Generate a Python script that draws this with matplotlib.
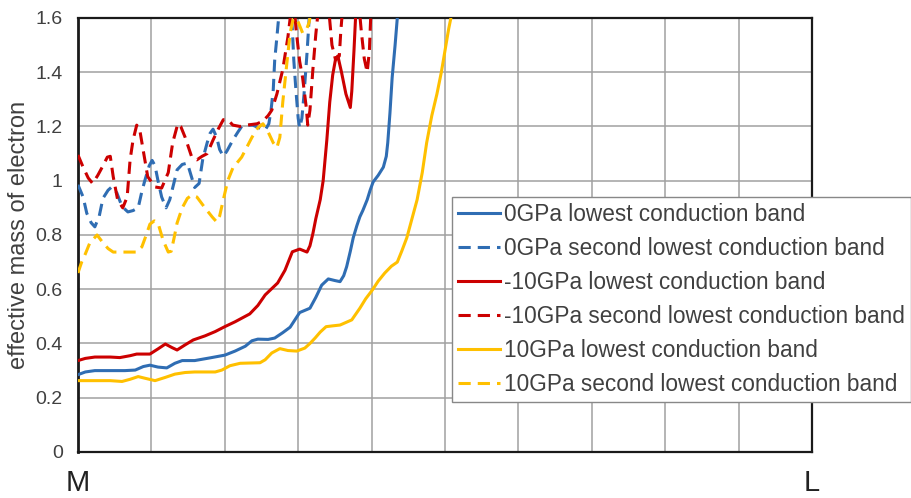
import matplotlib
matplotlib.use('Agg')
import matplotlib.pyplot as plt

plt.rcParams['font.family'] = ['Liberation Sans', 'DejaVu Sans']

# Effective electron mass along the M -> L path (0 = M, 1 = L)
# 0 GPa
x_0_low = [0.000, 0.010, 0.023, 0.044, 0.064, 0.078, 0.089, 0.098, 0.109, 0.121,
           0.132, 0.142, 0.159, 0.180, 0.200, 0.214, 0.228, 0.237, 0.245, 0.259,
           0.268, 0.279, 0.289, 0.302, 0.316, 0.324, 0.332, 0.341, 0.350, 0.357,
           0.362, 0.366, 0.371, 0.375, 0.380, 0.384, 0.388, 0.394, 0.398, 0.402,
           0.409, 0.416, 0.420, 0.422, 0.425, 0.428, 0.432, 0.435, 0.437]
m_0_low = [0.285, 0.295, 0.300, 0.300, 0.300, 0.302, 0.315, 0.320, 0.313, 0.310,
           0.327, 0.337, 0.337, 0.347, 0.357, 0.372, 0.390, 0.410, 0.416, 0.415,
           0.420, 0.440, 0.460, 0.514, 0.530, 0.570, 0.615, 0.638, 0.632, 0.628,
           0.650, 0.683, 0.740, 0.790, 0.835, 0.867, 0.890, 0.930, 0.965, 0.995,
           1.020, 1.050, 1.090, 1.140, 1.250, 1.380, 1.500, 1.600, 1.700]

x_0_second = [0.000, 0.007, 0.012, 0.018, 0.023, 0.029, 0.034, 0.041, 0.046, 0.053,
              0.060, 0.068, 0.075, 0.082, 0.087, 0.091, 0.097, 0.101, 0.105, 0.109,
              0.114, 0.120, 0.125, 0.131, 0.135, 0.142, 0.149, 0.154, 0.159, 0.165,
              0.170, 0.176, 0.180, 0.184, 0.189, 0.193, 0.198, 0.203, 0.211, 0.218,
              0.223, 0.232, 0.238, 0.247, 0.255, 0.260, 0.263, 0.266, 0.268, 0.271,
              0.274, 0.278, 0.283, 0.289, 0.292, 0.294, 0.297, 0.300, 0.302, 0.305,
              0.308, 0.312, 0.315, 0.317]
m_0_second = [0.985, 0.940, 0.880, 0.845, 0.830, 0.870, 0.935, 0.965, 0.977, 0.955,
              0.905, 0.885, 0.890, 0.900, 0.960, 1.000, 1.055, 1.075, 1.055, 1.000,
              0.940, 0.900, 0.930, 0.995, 1.040, 1.060, 1.065, 1.020, 0.975, 0.990,
              1.080, 1.140, 1.175, 1.190, 1.160, 1.115, 1.090, 1.110, 1.150, 1.180,
              1.200, 1.205, 1.205, 1.195, 1.187, 1.210, 1.260, 1.335, 1.445, 1.530,
              1.620, 1.750, 1.800, 1.650, 1.560, 1.445, 1.330, 1.230, 1.195, 1.230,
              1.320, 1.470, 1.600, 1.700]

# -10 GPa
x_m10_low = [0.000, 0.010, 0.023, 0.044, 0.057, 0.071, 0.080, 0.098, 0.109, 0.119,
             0.128, 0.135, 0.146, 0.157, 0.173, 0.187, 0.200, 0.214, 0.234, 0.245,
             0.255, 0.272, 0.282, 0.292, 0.302, 0.312, 0.316, 0.320, 0.324, 0.330,
             0.334, 0.339, 0.343, 0.347, 0.351, 0.354, 0.359, 0.365, 0.371, 0.373,
             0.376, 0.379]
m_m10_low = [0.337, 0.345, 0.350, 0.350, 0.348, 0.355, 0.361, 0.361, 0.380, 0.398,
             0.385, 0.376, 0.395, 0.413, 0.428, 0.444, 0.462, 0.480, 0.509, 0.540,
             0.579, 0.623, 0.670, 0.738, 0.748, 0.737, 0.760, 0.805, 0.860, 0.930,
             1.000, 1.150, 1.290, 1.390, 1.450, 1.460, 1.400, 1.320, 1.270, 1.330,
             1.480, 1.650]

x_m10_second = [0.000, 0.007, 0.014, 0.020, 0.027, 0.033, 0.040, 0.044, 0.048, 0.054,
                0.061, 0.067, 0.071, 0.075, 0.080, 0.084, 0.089, 0.095, 0.105, 0.114,
                0.123, 0.129, 0.136, 0.140, 0.146, 0.155, 0.162, 0.169, 0.176, 0.184,
                0.191, 0.198, 0.204, 0.211, 0.221, 0.230, 0.244, 0.252, 0.259, 0.264,
                0.271, 0.279, 0.286, 0.290, 0.293, 0.297, 0.302, 0.306, 0.311, 0.313,
                0.316, 0.320, 0.324, 0.327, 0.335, 0.342, 0.346, 0.351, 0.356, 0.358,
                0.361, 0.371, 0.381, 0.386, 0.390, 0.394, 0.397, 0.399, 0.402]
m_m10_second = [1.095, 1.050, 1.010, 0.990, 1.020, 1.050, 1.087, 1.090, 1.015, 0.930,
                0.900, 0.940, 1.077, 1.150, 1.205, 1.190, 1.110, 1.015, 0.977, 0.973,
                1.030, 1.140, 1.210, 1.200, 1.160, 1.087, 1.077, 1.090, 1.100, 1.150,
                1.190, 1.225, 1.225, 1.205, 1.200, 1.205, 1.210, 1.220, 1.240, 1.260,
                1.320, 1.410, 1.530, 1.620, 1.700, 1.560, 1.440, 1.380, 1.270, 1.205,
                1.260, 1.410, 1.540, 1.620, 1.850, 1.620, 1.500, 1.445, 1.460, 1.550,
                1.650, 1.900, 1.700, 1.550, 1.450, 1.400, 1.480, 1.620, 1.750]

# 10 GPa
x_10_low = [0.000, 0.023, 0.044, 0.060, 0.071, 0.082, 0.091, 0.105, 0.119, 0.132,
            0.146, 0.159, 0.187, 0.196, 0.207, 0.221, 0.248, 0.255, 0.264, 0.275,
            0.286, 0.298, 0.309, 0.316, 0.323, 0.330, 0.338, 0.347, 0.357, 0.373,
            0.384, 0.392, 0.401, 0.409, 0.418, 0.427, 0.435, 0.441, 0.448, 0.455,
            0.462, 0.469, 0.475, 0.482, 0.489, 0.495, 0.500, 0.505, 0.508, 0.511]
m_10_low = [0.263, 0.263, 0.263, 0.260, 0.268, 0.278, 0.272, 0.263, 0.275, 0.287,
            0.293, 0.295, 0.295, 0.302, 0.318, 0.327, 0.329, 0.340, 0.365, 0.381,
            0.374, 0.372, 0.383, 0.400, 0.420, 0.442, 0.462, 0.465, 0.468, 0.487,
            0.530, 0.565, 0.597, 0.630, 0.660, 0.685, 0.700, 0.740, 0.790, 0.860,
            0.930, 1.030, 1.140, 1.240, 1.320, 1.400, 1.480, 1.560, 1.600, 1.660]

x_10_second = [0.000, 0.005, 0.010, 0.016, 0.026, 0.033, 0.041, 0.048, 0.061, 0.080,
               0.087, 0.093, 0.098, 0.104, 0.109, 0.116, 0.123, 0.127, 0.131, 0.135,
               0.142, 0.149, 0.155, 0.162, 0.173, 0.183, 0.189, 0.193, 0.198, 0.204,
               0.211, 0.223, 0.237, 0.245, 0.252, 0.259, 0.266, 0.271, 0.275, 0.279,
               0.285, 0.289, 0.293, 0.297, 0.300, 0.306, 0.311, 0.315, 0.317]
m_10_second = [0.660, 0.700, 0.730, 0.770, 0.800, 0.775, 0.750, 0.737, 0.737, 0.737,
               0.756, 0.800, 0.840, 0.852, 0.844, 0.780, 0.737, 0.740, 0.790, 0.844,
               0.900, 0.935, 0.947, 0.940, 0.900, 0.866, 0.848, 0.870, 0.930, 1.000,
               1.047, 1.087, 1.160, 1.195, 1.210, 1.180, 1.140, 1.122, 1.160, 1.290,
               1.445, 1.545, 1.595, 1.600, 1.585, 1.545, 1.555, 1.585, 1.620]

series = [
    (x_0_low, m_0_low, '#2f6db3', '-', '0GPa lowest conduction band'),
    (x_0_second, m_0_second, '#2f6db3', '--', '0GPa second lowest conduction band'),
    (x_m10_low, m_m10_low, '#cc0000', '-', '-10GPa lowest conduction band'),
    (x_m10_second, m_m10_second, '#cc0000', '--', '-10GPa second lowest conduction band'),
    (x_10_low, m_10_low, '#ffc000', '-', '10GPa lowest conduction band'),
    (x_10_second, m_10_second, '#ffc000', '--', '10GPa second lowest conduction band'),
]

y_ticks = [0, 0.2, 0.4, 0.6, 0.8, 1.0, 1.2, 1.4, 1.6]
y_tick_labels = ['0', '0.2', '0.4', '0.6', '0.8', '1', '1.2', '1.4', '1.6']
x_ticks = [i / 10 for i in range(11)]
x_tick_labels = ['M'] + [''] * 9 + ['L']

text_color = '#404040'

fig = plt.figure(figsize=(9.12, 4.98), dpi=100)
ax = fig.add_axes([0.0855, 0.0924, 0.8049, 0.8715])

for xs, ys, color, style, label in series:
    if style == '--':
        ax.plot(xs, ys, color=color, lw=2.2, linestyle=(0, (4, 2.3)),
                dash_capstyle='butt', label=label, zorder=3)
    else:
        ax.plot(xs, ys, color=color, lw=2.2, solid_joinstyle='round',
                label=label, zorder=3)

ax.set_xlim(0, 1)
ax.set_ylim(0, 1.6)
ax.set_xticks(x_ticks)
ax.set_xticklabels(x_tick_labels)
ax.set_yticks(y_ticks)
ax.set_yticklabels(y_tick_labels)

ax.grid(True, color='#a0a0a0', lw=1.1, zorder=0)
ax.set_axisbelow(True)
for side in ['top', 'right', 'bottom', 'left']:
    ax.spines[side].set_color('#1a1a1a')
    ax.spines[side].set_linewidth(1.6)
ax.spines['left'].set_linewidth(2.0)

ax.tick_params(axis='y', length=0, pad=11, labelsize=14, labelcolor=text_color)
ax.tick_params(axis='x', length=0, pad=12, labelsize=21, labelcolor='#222222')

ax.set_ylabel('effective mass of electron', fontsize=17, color=text_color, labelpad=4)

leg = ax.legend(loc='upper left', bbox_to_anchor=(0.4956, 0.6044),
                bbox_transform=fig.transFigure, borderaxespad=0,
                fontsize=16.3, handlelength=1.85, handletextpad=0.2,
                labelspacing=0.49, borderpad=0.25, fancybox=False,
                framealpha=1, edgecolor='#888888')
leg.get_frame().set_linewidth(1.0)
for t in leg.get_texts():
    t.set_color(text_color)

fig.savefig('out.png', dpi=100)
